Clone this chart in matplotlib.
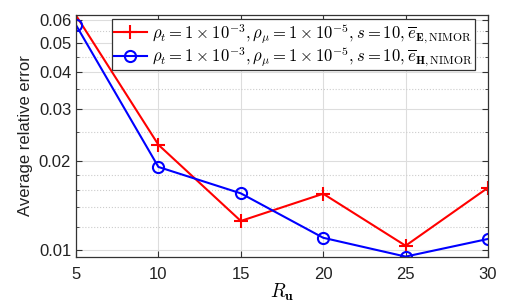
import numpy as np
import matplotlib
matplotlib.use('Agg')
from matplotlib import pyplot as plt
from matplotlib.ticker import FixedLocator, NullFormatter

plt.rcParams['mathtext.fontset'] = 'cm'
plt.rcParams['font.family'] = ['Liberation Sans', 'DejaVu Sans']

r_u = [5, 10, 15, 20, 25, 30]
err_E = [0.0622, 0.0227, 0.01254, 0.0155, 0.01034, 0.01625]
err_H = [0.0577, 0.0191, 0.01555, 0.0110, 0.00950, 0.0109]
yticks = [0.01, 0.02, 0.03, 0.04, 0.05, 0.06]
ytick_labels = ['0.01', '0.02', '0.03', '0.04', '0.05', '0.06']
yminor = [0.012, 0.014, 0.016, 0.018, 0.025, 0.035, 0.045, 0.055]

label_E = r'$\rho_t = 1\times10^{-3}, \rho_\mu = 1\times10^{-5}, s = 10, \overline{e}_{\mathbf{E},\mathrm{NIMOR}}$'
label_H = r'$\rho_t = 1\times10^{-3}, \rho_\mu = 1\times10^{-5}, s = 10, \overline{e}_{\mathbf{H},\mathrm{NIMOR}}$'

fig = plt.figure(figsize=(5.13, 3.02), dpi=100)
ax = fig.add_axes([76/513, 1 - 257/302, (488-76)/513, (257-15)/302])

ax.plot(r_u, err_E, color='red', marker='+', markersize=10, markeredgewidth=1.5,
        linewidth=1.5, label=label_E)
ax.plot(r_u, err_H, color='blue', marker='o', markersize=8, markerfacecolor='none',
        markeredgewidth=1.5, linewidth=1.5, label=label_H)

ax.set_yscale('log')
ax.set_xlim(5, 30)
ax.set_ylim(0.00947, 0.0624)
ax.set_xticks([5, 10, 15, 20, 25, 30])
ax.yaxis.set_major_locator(FixedLocator(yticks))
ax.set_yticklabels(ytick_labels)
ax.yaxis.set_minor_locator(FixedLocator(yminor))
ax.yaxis.set_minor_formatter(NullFormatter())

ax.tick_params(which='both', direction='in', top=True, right=True, labelsize=12,
               color='#333333', labelcolor='#222222')
ax.tick_params(which='major', length=4)
ax.tick_params(which='minor', length=2.5)
ax.tick_params(axis='x', pad=7)

ax.grid(True, which='major', color='#dddddd', linewidth=0.8)
ax.grid(True, which='minor', color='#cccccc', linestyle=':', linewidth=0.8)
ax.set_axisbelow(True)
for s in ax.spines.values():
    s.set_color('#333333')
    s.set_linewidth(0.9)

ax.set_xlabel(r'$R_{\mathbf{u}}$', fontsize=14, labelpad=0)
ax.set_ylabel('Average relative error', fontsize=12, color='#222222')

leg = ax.legend(loc='upper right', fontsize=12, fancybox=False,
                edgecolor='#333333', framealpha=1, borderpad=0.1, handlelength=2.0,
                handletextpad=0.3, labelspacing=0.0, borderaxespad=0)
leg.set_bbox_to_anchor((475/513, 1 - 19/302), transform=fig.transFigure)
leg.get_frame().set_linewidth(0.9)

fig.savefig('out.png', dpi=100)
